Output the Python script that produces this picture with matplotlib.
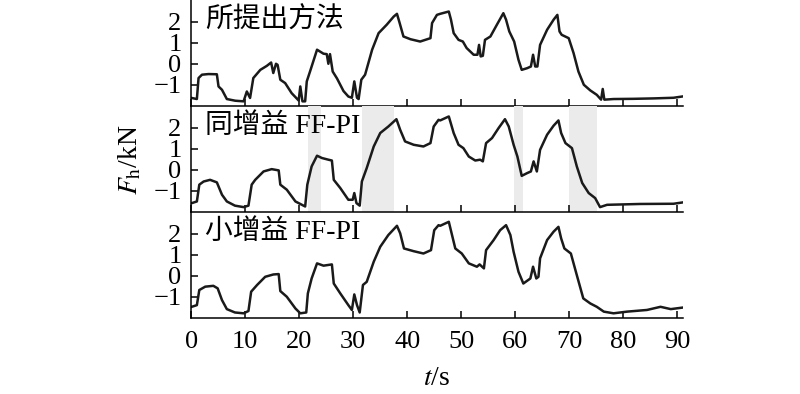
import matplotlib

matplotlib.use("Agg")
import matplotlib.pyplot as plt

# time (s) and force (kN), one pair of lists per panel
t_top = [0.1, 1.05, 1.36, 2.0, 3.2, 4.75, 5.06, 5.7, 6.6, 8.15, 9.7, 10.3, 10.9,
         11.5, 12.8, 14.0, 14.8, 15.2, 15.7, 16.0, 16.5, 17.4, 18.6, 19.9, 20.2,
         20.6, 21.1, 21.4, 22.0, 23.3, 24.5, 25.1, 25.4, 25.7, 26.2, 27.0, 28.2,
         29.1, 29.75, 30.2, 30.7, 31.0, 31.5, 32.2, 33.5, 34.7, 36.2, 37.5, 38.1,
         38.6, 39.3, 40.6, 42.4, 44.3, 44.6, 45.5, 46.1, 47.7, 48.1, 48.6, 49.5,
         50.3, 51.0, 52.3, 53.0, 53.3, 53.6, 54.0, 54.4, 55.4, 56.6, 57.8, 58.3,
         58.9, 59.8, 60.6, 61.2, 62.2, 62.9, 63.3, 63.7, 64.1, 64.6, 65.9, 67.1,
         67.8, 68.2, 68.6, 69.9, 70.8, 71.7, 72.7, 73.9, 75.1, 75.9, 76.2, 76.5,
         78.2, 81.9, 85.6, 89.3, 90.9]
f_top = [-1.63, -1.68, -0.68, -0.52, -0.49, -0.5, -1.08, -1.24, -1.68, -1.76, -1.79,
         -1.32, -1.63, -0.68, -0.29, -0.1, 0.06, -0.44, 0.0, -0.05, -0.76, -0.92,
         -1.4, -1.75, -1.08, -1.79, -1.79, -0.84, -0.37, 0.67, 0.48, 0.46, 0.0, 0.46,
         -0.37, -0.7, -1.3, -1.56, -1.62, -0.84, -1.62, -1.68, -0.76, -0.52, 0.67,
         1.46, 1.86, 2.25, 2.38, 1.94, 1.30, 1.17, 1.06, 1.22, 1.94, 2.33, 2.38,
         2.49, 2.1, 1.46, 1.14, 1.06, 0.75, 0.43, 0.43, 0.9, 0.35, 0.38, 1.14, 1.30,
         1.86, 2.41, 2.1, 1.54, 1.06, 0.19, -0.29, -0.21, -0.13, 0.43, -0.13, -0.13,
         0.9, 1.62, 2.1, 2.33, 1.54, 1.38, 1.22, 0.51, -0.37, -1.0, -1.27, -1.48,
         -1.71, -1.2, -1.71, -1.68, -1.67, -1.65, -1.62, -1.56]

t_mid = [0.1, 1.05, 1.5, 2.3, 3.5, 4.75, 5.7, 6.6, 8.1, 9.7, 10.6, 11.2, 11.85,
         13.4, 14.9, 16.2, 16.5, 17.7, 19.3, 21.1, 21.5, 22.3, 23.3, 24.2, 25.4,
         26.05, 26.4, 27.6, 29.1, 29.9, 30.2, 30.6, 31.2, 31.6, 32.5, 33.8, 35.0,
         36.5, 38.0, 38.7, 39.6, 41.2, 43.0, 44.3, 44.9, 45.8, 46.1, 47.7, 48.6,
         49.5, 50.4, 51.4, 52.6, 53.5, 54.0, 54.6, 55.7, 56.9, 58.1, 58.8, 59.7,
         60.4, 61.2, 62.2, 62.9, 63.4, 64.0, 64.6, 65.9, 67.1, 68.0, 68.5, 69.3,
         70.5, 71.4, 72.4, 73.6, 74.8, 75.7, 77.0, 83.1, 89.3, 90.9]
f_mid = [-1.59, -1.51, -0.71, -0.56, -0.48, -0.6, -1.19, -1.51, -1.71, -1.78, -1.71,
         -0.71, -0.48, -0.08, 0.03, -0.03, -0.71, -0.95, -1.51, -1.75, -0.71, 0.16,
         0.67, 0.56, 0.48, 0.44, -0.48, -0.87, -1.43, -1.43, -1.11, -1.59, -1.71,
         -0.56, 0.08, 1.11, 1.75, 2.06, 2.41, 1.9, 1.35, 1.19, 1.11, 1.27, 2.06, 2.38,
         2.35, 2.54, 1.75, 1.19, 1.03, 0.63, 0.44, 0.48, 0.4, 1.27, 1.51, 1.98, 2.41,
         2.06, 1.19, 0.63, -0.29, -0.16, -0.08, 0.4, -0.08, 0.95, 1.67, 2.1, 2.35,
         1.75, 1.27, 1.03, 0.16, -0.63, -1.11, -1.35, -1.78, -1.67, -1.63, -1.62,
         -1.56]

t_bot = [0.1, 1.05, 1.5, 2.6, 4.1, 4.9, 5.7, 6.6, 8.1, 9.7, 10.6, 11.1, 12.2, 13.7,
         15.2, 16.2, 16.5, 17.7, 19.3, 20.2, 21.3, 21.6, 22.3, 23.3, 24.5, 26.05,
         26.4, 27.6, 29.1, 29.75, 30.2, 30.7, 31.2, 31.8, 32.5, 33.8, 35.0, 36.5,
         38.1, 38.7, 39.4, 41.2, 43.0, 44.4, 45.0, 45.8, 46.1, 47.7, 48.9, 50.1,
         51.4, 52.9, 53.4, 54.2, 54.6, 56.0, 57.2, 58.3, 59.1, 59.7, 60.6, 61.5,
         62.8, 63.3, 63.9, 64.3, 64.6, 65.9, 67.1, 68.0, 68.5, 69.1, 70.3, 71.4,
         72.6, 73.9, 75.1, 76.4, 78.2, 80.7, 84.4, 86.9, 88.8, 90.9]
f_bot = [-1.48, -1.40, -0.68, -0.52, -0.48, -0.6, -1.16, -1.59, -1.75, -1.79, -1.68,
         -0.76, -0.44, -0.05, 0.06, 0.08, -0.73, -1.0, -1.56, -1.79, -1.75, -0.84,
         -0.13, 0.59, 0.48, 0.54, -0.37, -0.84, -1.4, -1.63, -0.89, -1.4, -1.75,
         -0.44, -0.29, 0.67, 1.38, 1.94, 2.38, 2.02, 1.3, 1.17, 1.06, 1.22, 2.17,
         2.41, 2.38, 2.57, 1.3, 1.06, 0.59, 0.43, 0.54, 0.35, 1.22, 1.7, 2.17, 2.41,
         1.94, 1.14, 0.19, -0.37, -0.13, 0.43, -0.13, -0.05, 0.83, 1.7, 2.1, 2.33,
         1.78, 1.3, 1.06, 0.03, -1.08, -1.32, -1.48, -1.71, -1.79, -1.71, -1.63,
         -1.48, -1.59, -1.52]

labels = ["所提出方法", "同增益 FF-PI", "小增益 FF-PI"]
# shaded intervals (s) on the same-gain panel
spans_mid = [(21.6, 24.1), (31.6, 37.6), (59.7, 61.5), (69.9, 75.1)]

y_ticks = [-1, 0, 1, 2]
x_ticks = [0, 10, 20, 30, 40, 50, 60, 70, 80, 90]

plt.rcParams["font.family"] = ["Liberation Serif", "Noto Sans CJK SC"]
plt.rcParams["mathtext.fontset"] = "stix"
plt.rcParams["axes.linewidth"] = 1.1

fig, axes = plt.subplots(3, 1, figsize=(8, 3.94), dpi=100, sharex=True)
fig.subplots_adjust(left=0.239, right=0.854, top=0.999, bottom=0.192, hspace=0)

series = [(t_top, f_top), (t_mid, f_mid), (t_bot, f_bot)]
for i, ax in enumerate(axes):
    t, f = series[i]
    if i == 1:
        for a, b in spans_mid:
            ax.axvspan(a, b, color="#ebebeb", lw=0, zorder=0)
    ax.plot(t, f, color="#1a1a1a", lw=1.8, zorder=2)
    ax.set_xlim(0, 91.1)
    ax.set_ylim(-2.03, 3.02)
    ax.set_yticks(y_ticks)
    ax.set_xticks(x_ticks)
    ax.spines["top"].set_visible(False)
    ax.spines["right"].set_visible(False)
    ax.tick_params(direction="in", length=5, width=1.1, labelsize=19, pad=7)
    ax.patch.set_alpha(0)
    ax.text(0.028, 0.81, labels[i], transform=ax.transAxes, fontsize=20,
            ha="left", va="center")
    if i < 2:
        ax.tick_params(labelbottom=False)

axes[2].tick_params(axis="x", pad=9)
fig.text(0.1625, 0.594, "$F_\\mathrm{h}$/kN", rotation=90, fontsize=20,
         ha="center", va="center")
fig.text(0.546, 0.04, "$t$/s", fontsize=20, ha="center", va="center")

fig.savefig("out.png", dpi=100)
